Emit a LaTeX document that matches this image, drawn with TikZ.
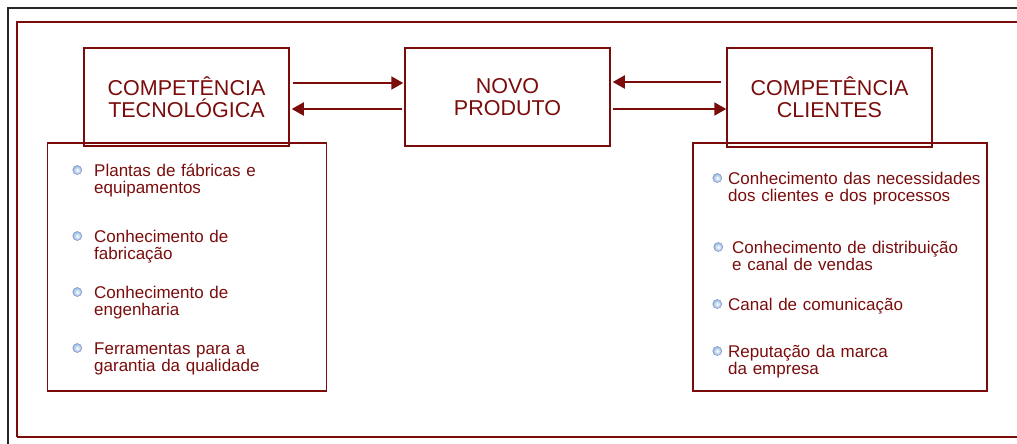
\documentclass[tikz,border=0pt]{standalone}
\usepackage{fontspec}
\setmainfont{Liberation Sans}
\usetikzlibrary{arrows.meta, positioning}
\definecolor{vinho}{RGB}{122,12,12}
\definecolor{bolinha}{RGB}{140,185,225}

\begin{document}
\begin{tikzpicture}[x=1pt, y=-1pt,
        caixa/.style={rectangle, draw=vinho, line width=1.5pt, inner sep=0pt,
                      minimum width=205pt, minimum height=98pt, align=center,
                      text=vinho, font=\fontsize{21.5}{22}\selectfont},
        lista/.style={rectangle, draw=vinho, line width=1.5pt, inner sep=0pt,
                      minimum height=248pt},
        item/.style={anchor=base west, inner sep=0pt, text width=270pt, align=left,
                     text=vinho, font=\fontsize{17}{17.5}\selectfont},
        bola/.style={circle, inner sep=0pt, minimum size=9pt, draw=gray!70!blue!70,
                     line width=0.5pt, shade, inner color=white, outer color=bolinha},
        seta/.style={-{Triangle[length=12pt,width=13pt]}, line width=2pt, vinho},
        node distance=12pt]
      \useasboundingbox (0,0) rectangle (1017,444);
      \draw[black!85, line width=2.2pt] (8,446) -- (8,8) -- (1018,8);
      \draw[vinho, line width=1.5pt] (17,437) -- (1018,437)
                                     (17,437) -- (17,22) -- (1018,22);

      % caixas de cima
      \node[caixa] (tec) at (186.5,97) {COMPETÊNCIA\\TECNOLÓGICA};
      \node[caixa] (novo) at (507.5,97) {NOVO\\PRODUTO};
      \node[caixa, minimum height=99pt] (cli) at (829.5,97.5) {COMPETÊNCIA\\CLIENTES};

      % listas
      \node[lista, minimum width=279pt] (lt) at (187,267) {};
      \node[lista, minimum width=294pt] (lc) at (840,267) {};

      \node[item] (t1) at (94,176) {Plantas de fábricas e\\equipamentos};
      \node[item] (t2) at (94,242) {Conhecimento de\\fabricação};
      \node[item] (t3) at (94,298) {Conhecimento de\\engenharia};
      \node[item] (t4) at (94,354) {Ferramentas para a\\garantia da qualidade};
      \node[bola, left=of t1.base west, yshift=6pt] (b1) {};
      \node[bola, left=of t2.base west, yshift=6pt] (b2) {};
      \node[bola, left=of t3.base west, yshift=6pt] (b3) {};
      \node[bola, left=of t4.base west, yshift=6pt] (b4) {};

      \node[item] (c1) at (728,184) {Conhecimento das necessidades\\dos clientes e dos processos};
      \node[item] (c2) at (732,253) {Conhecimento de distribuição\\e canal de vendas};
      \node[item] (c3) at (728,310) {Canal de comunicação};
      \node[item] (c4) at (728,357) {Reputação da marca\\da empresa};
      \node[bola, left=6pt of c1.base west, yshift=6pt] (d1) {};
      \node[bola, left=9pt of c2.base west, yshift=6pt] (d2) {};
      \node[bola, left=6pt of c3.base west, yshift=6pt] (d3) {};
      \node[bola, left=6pt of c4.base west, yshift=6pt] (d4) {};

      % setas
      \draw[seta] ([xshift=3pt,yshift=14pt]tec.east) -- ([xshift=-1pt,yshift=14pt]novo.west);
      \draw[seta] ([xshift=-2pt,yshift=-12pt]novo.west) -- ([xshift=2pt,yshift=-12pt]tec.east);
      \draw[seta] ([xshift=-5pt,yshift=15.5pt]cli.west) -- ([xshift=2pt,yshift=15pt]novo.east);
      \draw[seta] ([xshift=2pt,yshift=-12pt]novo.east) -- ([xshift=0pt,yshift=-11.5pt]cli.west);
    \end{tikzpicture}
\end{document}
